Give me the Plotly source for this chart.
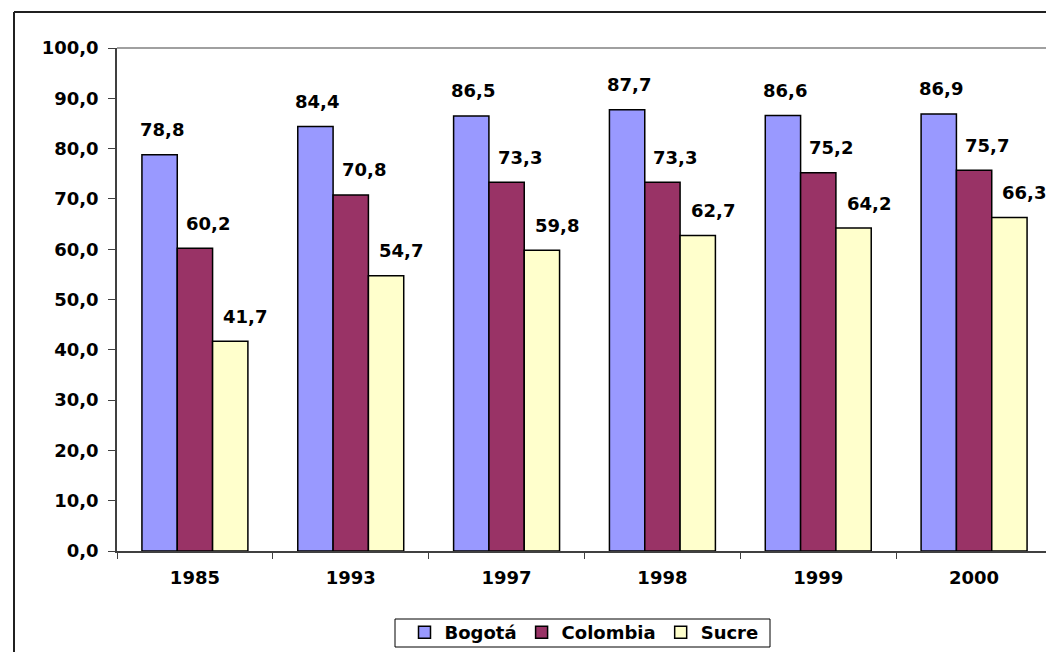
import plotly.graph_objects as go

years = ["1985", "1993", "1997", "1998", "1999", "2000"]
bogota = [78.8, 84.4, 86.5, 87.7, 86.6, 86.9]
colombia = [60.2, 70.8, 73.3, 73.3, 75.2, 75.7]
sucre = [41.7, 54.7, 59.8, 62.7, 64.2, 66.3]

series = [("Bogotá", bogota, "#9999FF"),
          ("Colombia", colombia, "#993366"),
          ("Sucre", sucre, "#FFFFCC")]

FONT = "DejaVu Sans"

W, H = 1054, 652
L, R, T, B = 109, 10, 40, 109
pw, ph = W - L - R, H - T - B
BARGAP = 0.32
barw_px = pw / len(years) * (1 - BARGAP) / len(series)
label_dx = [2, 13, 15]  # Excel-style slight right shift of data labels


def px(x):
    return (x - L) / pw


def py(y):
    return (H - B - y) / ph


fig = go.Figure()
annotations = []
for i, (name, vals, col) in enumerate(series):
    fig.add_trace(go.Bar(
        x=years, y=vals, name=name,
        marker=dict(color=col, line=dict(color="#000000", width=1.5)),
    ))
    for j, v in enumerate(vals):
        annotations.append(dict(
            x=j, y=v, xref="x", yref="y", showarrow=False,
            text=f"{v:.1f}".replace(".", ","),
            xanchor="center", yanchor="middle",
            xshift=(i - 1) * barw_px + label_dx[i], yshift=25,
            font=dict(family=FONT, size=18, color="#000000", weight="bold"),
        ))

fig.update_layout(
    width=W, height=H,
    margin=dict(l=L, r=R, t=T, b=B, autoexpand=False),
    paper_bgcolor="white", plot_bgcolor="white",
    separators=",.",
    barmode="group", bargap=BARGAP, bargroupgap=0,
    font=dict(family=FONT, size=18, color="#000000"),
    showlegend=True,
    legend=dict(
        orientation="h", x=px(576), xanchor="center", y=py(606), yanchor="top",
        borderwidth=0, bgcolor="rgba(0,0,0,0)",
        font=dict(family=FONT, size=18, color="#000000", weight="bold"),
        itemwidth=30, tracegroupgap=0,
    ),
    xaxis=dict(
        type="category", range=[-0.5, len(years) - 0.5],
        showline=True, linecolor="#404040", linewidth=1.5,
        ticks="outside", ticklen=6, tickcolor="#404040", tickson="boundaries",
        ticklabelstandoff=10,
        tickfont=dict(family=FONT, size=18, color="#000000", weight="bold"),
        showgrid=False,
    ),
    yaxis=dict(
        range=[0, 100], dtick=10, tickformat=".1f",
        showline=True, linecolor="#404040", linewidth=1.5,
        ticks="outside", ticklen=7, tickcolor="#404040",
        ticklabelstandoff=6,
        tickfont=dict(family=FONT, size=18, color="#000000", weight="bold"),
        showgrid=False, zeroline=False,
    ),
    annotations=annotations,
    shapes=[
        dict(type="line", xref="paper", yref="paper", x0=0, x1=1, y0=1, y1=1,
             line=dict(color="#808080", width=1.5)),
        dict(type="line", xref="paper", yref="paper", x0=1, x1=1, y0=0, y1=1,
             line=dict(color="#808080", width=1.5)),
        dict(type="line", xref="paper", yref="paper", x0=px(6), x1=px(W + 5), y0=py(4), y1=py(4),
             line=dict(color="#202020", width=2)),
        dict(type="line", xref="paper", yref="paper", x0=px(6), x1=px(6), y0=py(4), y1=py(H + 5),
             line=dict(color="#202020", width=2)),
        dict(type="rect", xref="paper", yref="paper", x0=px(387), x1=px(762),
             y0=py(639), y1=py(611), line=dict(color="#000000", width=1),
             fillcolor="rgba(0,0,0,0)", layer="below"),
    ],
)

fig.write_html("out.html")
